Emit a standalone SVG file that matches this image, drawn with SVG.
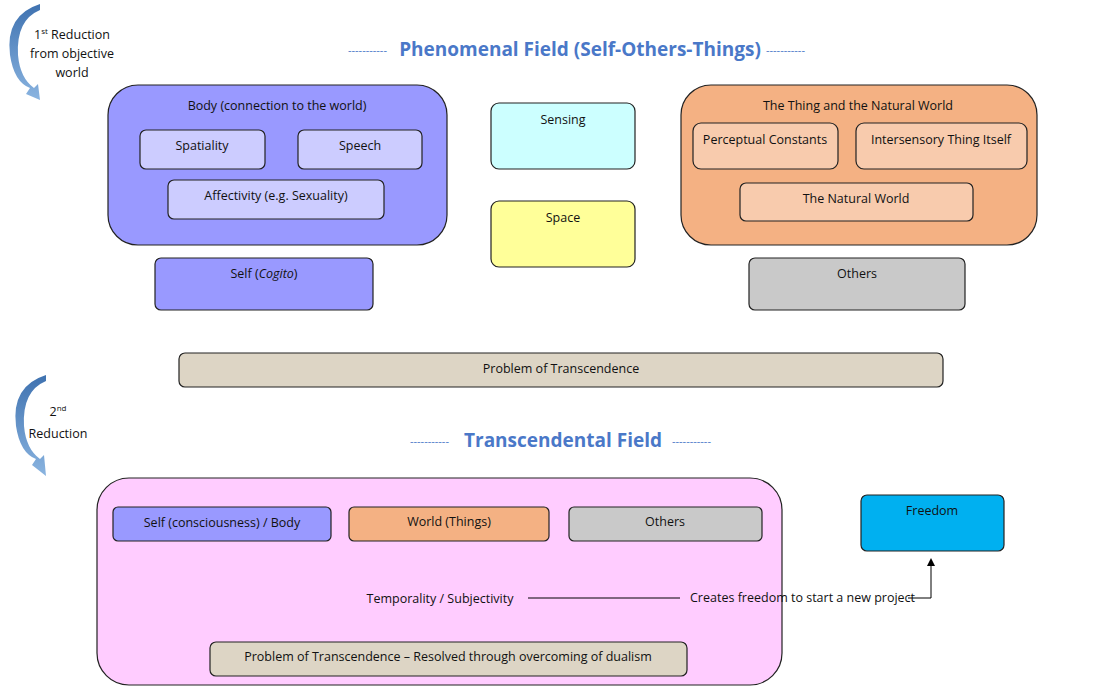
<svg xmlns="http://www.w3.org/2000/svg" width="1115" height="695" viewBox="0 0 1115 695">
<style>
text{font-family:"Open Sans","Liberation Sans",sans-serif;font-size:12.5px;fill:#111}
.c{text-anchor:middle}
.b{stroke:#222;stroke-width:1.2}
.h{font-size:19px;font-weight:bold;fill:#4a78c8}
.d{fill:#4a78c8;font-size:11px}
</style>
<defs>
<linearGradient id="ag" x1="0" y1="0" x2="0" y2="1"><stop offset="0" stop-color="#3f72b0"/><stop offset="1" stop-color="#8ab4e0"/></linearGradient>
<marker id="ah" markerWidth="8" markerHeight="8" refX="4" refY="4" orient="auto"><path d="M0,0L8,4L0,8z" fill="#000"/></marker>
</defs>
<g id="arrow1"><path d="M40,4 Q5,15 10,55 Q14,82 30,88 L26,94 L40,100 L38,84 L34,88 Q20,78 18,55 Q16,20 40,10z" fill="url(#ag)"/></g>
<g id="arrow2"><path d="M46,375 Q11,386 16,426 Q20,453 36,459 L32,465 L46,476 L44,455 L40,459 Q26,449 24,426 Q22,391 46,381z" fill="url(#ag)"/></g>
<text class="c" x="72" y="39">1<tspan font-size="8" dy="-5">st</tspan><tspan dy="5"> Reduction</tspan></text>
<text class="c" x="72" y="58">from objective</text>
<text class="c" x="72" y="77">world</text>
<text class="c" x="58" y="416">2<tspan font-size="8" dy="-5">nd</tspan></text>
<text class="c" x="58" y="438">Reduction</text>
<text class="d" x="348" y="54">-----------</text>
<text class="h c" x="580" y="56">Phenomenal Field (Self-Others-Things)</text>
<text class="d" x="766" y="54">-----------</text>
<text class="d" x="410" y="445">-----------</text>
<text class="h c" x="563" y="447">Transcendental Field</text>
<text class="d" x="672" y="445">-----------</text>
<g id="body"><rect class="b" x="108" y="85" width="339" height="160" rx="30" fill="#9999ff"/><text class="c" x="277" y="110">Body (connection to the world)</text></g>
<g id="spatiality"><rect class="b" x="140" y="130" width="125" height="39" rx="6" fill="#ccccff"/><text class="c" x="202" y="150">Spatiality</text></g>
<g id="speech"><rect class="b" x="298" y="130" width="124" height="39" rx="6" fill="#ccccff"/><text class="c" x="360" y="150">Speech</text></g>
<g id="affectivity"><rect class="b" x="168" y="180" width="216" height="39" rx="6" fill="#ccccff"/><text class="c" x="276" y="200">Affectivity (e.g. Sexuality)</text></g>
<g id="self"><rect class="b" x="155" y="258" width="218" height="52" rx="6" fill="#9999ff"/><text class="c" x="264" y="278">Self (<tspan font-style="italic">Cogito</tspan>)</text></g>
<g id="sensing"><rect class="b" x="491" y="103" width="144" height="66" rx="8" fill="#ccffff"/><text class="c" x="563" y="124">Sensing</text></g>
<g id="space"><rect class="b" x="491" y="201" width="144" height="66" rx="8" fill="#ffff99"/><text class="c" x="563" y="222">Space</text></g>
<g id="thing"><rect class="b" x="681" y="85" width="356" height="160" rx="30" fill="#f4b183"/><text class="c" x="858" y="110">The Thing and the Natural World</text></g>
<g id="perceptual"><rect class="b" x="693" y="123" width="145" height="46" rx="8" fill="#f8cbad"/><text class="c" x="765" y="144">Perceptual Constants</text></g>
<g id="intersensory"><rect class="b" x="856" y="123" width="171" height="46" rx="8" fill="#f8cbad"/><text class="c" x="941" y="144">Intersensory Thing Itself</text></g>
<g id="natural"><rect class="b" x="740" y="183" width="233" height="38" rx="6" fill="#f8cbad"/><text class="c" x="856" y="203">The Natural World</text></g>
<g id="others1"><rect class="b" x="749" y="258" width="216" height="52" rx="6" fill="#c9c9c9"/><text class="c" x="857" y="278">Others</text></g>
<g id="problem1"><rect class="b" x="179" y="353" width="764" height="34" rx="6" fill="#ddd5c5"/><text class="c" x="561" y="373">Problem of Transcendence</text></g>
<g id="transField"><rect class="b" x="97" y="478" width="685" height="207" rx="32" fill="#ffccff"/></g>
<g id="selfBody"><rect class="b" x="113" y="507" width="218" height="34" rx="5" fill="#9999ff"/><text class="c" x="222" y="527">Self (consciousness) / Body</text></g>
<g id="world"><rect class="b" x="349" y="507" width="200" height="34" rx="5" fill="#f4b183"/><text class="c" x="449" y="526">World (Things)</text></g>
<g id="others2"><rect class="b" x="569" y="507" width="193" height="34" rx="5" fill="#c9c9c9"/><text class="c" x="665" y="526">Others</text></g>
<g id="temporality"><text class="c" x="440" y="603">Temporality / Subjectivity</text></g>
<g id="problem2"><rect class="b" x="210" y="642" width="477" height="34" rx="6" fill="#ddd5c5"/><text class="c" x="448" y="661">Problem of Transcendence – Resolved through overcoming of dualism</text></g>
<g id="freedom"><rect class="b" x="861" y="495" width="143" height="56" rx="6" fill="#00b0f0"/><text class="c" x="932" y="515">Freedom</text></g>
<g id="connectors">
<line x1="528" y1="598" x2="680" y2="598" stroke="#000"/>
<text x="690" y="602" font-size="11">Creates freedom to start a new project</text>
<path d="M908,598H931V562" fill="none" stroke="#000" marker-end="url(#ah)"/>
</g>
</svg>
